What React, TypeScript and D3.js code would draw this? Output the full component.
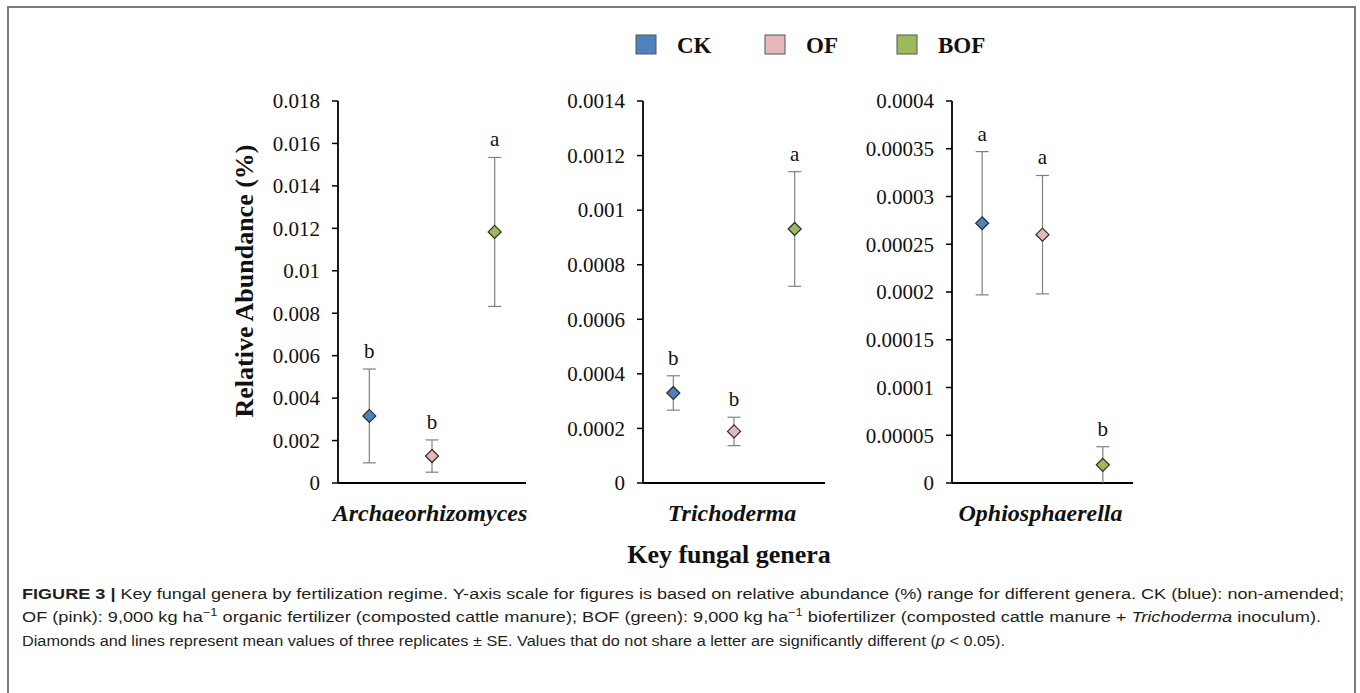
import React from 'react';
import { scaleBand, scaleLinear } from 'd3';

// treatments and genera
const treatments = ['CK', 'OF', 'BOF'];
const colors = ['#4f81bd', '#e6b9b8', '#9bbb59'];
const genera = ['Archaeorhizomyces', 'Trichoderma', 'Ophiosphaerella'];

// mean relative abundance (%) and SE
const archaeoMean = [0.00316, 0.00127, 0.01183];
const archaeoSE = [0.00221, 0.00076, 0.00351];
const trichoMean = [0.00033, 0.000189, 0.000931];
const trichoSE = [0.000063, 0.000052, 0.00021];
const ophioMean = [0.000272, 0.00026, 0.000019];
const ophioSE = [0.000075, 0.000062, 0.000019];

// significance letters
const archaeoLetters = ['b', 'b', 'a'];
const trichoLetters = ['b', 'b', 'a'];
const ophioLetters = ['a', 'a', 'b'];

// y tick values and labels
const archaeoTicks = [0, 0.002, 0.004, 0.006, 0.008, 0.01, 0.012, 0.014, 0.016, 0.018];
const archaeoTickLabels = ['0', '0.002', '0.004', '0.006', '0.008', '0.01', '0.012', '0.014', '0.016', '0.018'];
const trichoTicks = [0, 0.0002, 0.0004, 0.0006, 0.0008, 0.001, 0.0012, 0.0014];
const trichoTickLabels = ['0', '0.0002', '0.0004', '0.0006', '0.0008', '0.001', '0.0012', '0.0014'];
const ophioTicks = [0, 0.00005, 0.0001, 0.00015, 0.0002, 0.00025, 0.0003, 0.00035, 0.0004];
const ophioTickLabels = ['0', '0.00005', '0.0001', '0.00015', '0.0002', '0.00025', '0.0003', '0.00035', '0.0004'];

const serif = '"Liberation Serif", "Times New Roman", serif';
const sans = '"Liberation Sans", Arial, sans-serif';

const panels = [
  { name: genera[0], mean: archaeoMean, se: archaeoSE, letters: archaeoLetters, ticks: archaeoTicks, labels: archaeoTickLabels, x0: 338, x1: 526 },
  { name: genera[1], mean: trichoMean, se: trichoSE, letters: trichoLetters, ticks: trichoTicks, labels: trichoTickLabels, x0: 643, x1: 825 },
  { name: genera[2], mean: ophioMean, se: ophioSE, letters: ophioLetters, ticks: ophioTicks, labels: ophioTickLabels, x0: 952, x1: 1133 },
];

const yTop = 101;
const yBottom = 483;

function Panel({ p }) {
  const yMax = p.ticks[p.ticks.length - 1];
  const y = scaleLinear().domain([0, yMax]).range([yBottom, yTop]);
  const x = scaleBand().domain(treatments).range([p.x0, p.x1]);
  const half = x.bandwidth() / 2;
  const d = 6.5; // diamond half-diagonal
  const cap = 6.5;

  return (
    <g>
      {/* y ticks */}
      {p.ticks.map((t, i) => (
        <g key={i}>
          <line x1={p.x0 - 6} x2={p.x0} y1={y(t)} y2={y(t)} stroke="#000" strokeWidth={1.5} />
          <text x={p.x0 - 18} y={y(t)} dy="0.35em" textAnchor="end" fontFamily={serif} fontSize={21} fill="#111">
            {p.labels[i]}
          </text>
        </g>
      ))}
      <line x1={p.x0} x2={p.x0} y1={yTop} y2={yBottom} stroke="#000" strokeWidth={1.8} />
      <line x1={p.x0} x2={p.x1} y1={yBottom} y2={yBottom} stroke="#000" strokeWidth={1.8} />

      {treatments.map((tr, i) => {
        const cx = x(tr) + half;
        const lo = Math.max(0, p.mean[i] - p.se[i]);
        const hi = p.mean[i] + p.se[i];
        const cy = y(p.mean[i]);
        return (
          <g key={tr}>
            <line x1={cx} x2={cx} y1={y(lo)} y2={y(hi)} stroke="#808080" strokeWidth={1.2} />
            <line x1={cx - cap} x2={cx + cap} y1={y(hi)} y2={y(hi)} stroke="#808080" strokeWidth={1.2} />
            {lo > 0 && <line x1={cx - cap} x2={cx + cap} y1={y(lo)} y2={y(lo)} stroke="#808080" strokeWidth={1.2} />}
            <path
              d={`M${cx},${cy - d}L${cx + d},${cy}L${cx},${cy + d}L${cx - d},${cy}Z`}
              fill={colors[i]}
              stroke="#2b2b2b"
              strokeWidth={1.2}
            />
            <text x={cx} y={y(hi) - 11} textAnchor="middle" fontFamily={serif} fontSize={21} fill="#111">
              {p.letters[i]}
            </text>
          </g>
        );
      })}

      <text
        x={(p.x0 + p.x1) / 2 - 2}
        y={521}
        textAnchor="middle"
        fontFamily={serif}
        fontSize={24}
        fontWeight="bold"
        fontStyle="italic"
        fill="#111"
      >
        {p.name}
      </text>
    </g>
  );
}

export default function App() {
  const legendX = [636, 765, 897];
  return (
    <svg width={1360} height={693} style={{ position: 'absolute', left: 0, top: 0, background: '#fff' }}>
      <rect x={8} y={7} width={1347} height={720} fill="#fff" stroke="#7a7a7a" strokeWidth={2} />

      {/* legend */}
      {treatments.map((tr, i) => (
        <g key={tr}>
          <rect x={legendX[i]} y={35} width={20} height={19} fill={colors[i]} stroke="#555" strokeWidth={1} />
          <text x={legendX[i] + 41} y={53} fontFamily={serif} fontSize={23} fontWeight="bold" fill="#111">
            {tr}
          </text>
        </g>
      ))}

      <text
        transform="translate(253,281) rotate(-90)"
        textAnchor="middle"
        fontFamily={serif}
        fontSize={26}
        fontWeight="bold"
        fill="#111"
      >
        Relative Abundance (%)
      </text>

      {panels.map((p) => (
        <Panel key={p.name} p={p} />
      ))}

      <text x={729} y={563} textAnchor="middle" fontFamily={serif} fontSize={26} fontWeight="bold" fill="#111">
        Key fungal genera
      </text>

      {/* caption */}
      <g fontFamily={sans} fontSize={15.5} fill="#231f20">
        <text x={22} y={599} textLength={1322} lengthAdjust="spacingAndGlyphs">
          <tspan fontWeight="bold">FIGURE 3 |</tspan> Key fungal genera by fertilization regime. Y-axis scale for figures is based on relative abundance (%) range for different genera. CK (blue): non-amended;
        </text>
        <text x={22} y={622} textLength={1299} lengthAdjust="spacingAndGlyphs">
          OF (pink): 9,000 kg ha<tspan dy={-6} fontSize={11}>−1</tspan>
          <tspan dy={6}> organic fertilizer (composted cattle manure); BOF (green): 9,000 kg ha</tspan>
          <tspan dy={-6} fontSize={11}>−1</tspan>
          <tspan dy={6}> biofertilizer (composted cattle manure + </tspan>
          <tspan fontStyle="italic">Trichoderma</tspan> inoculum).
        </text>
        <text x={22} y={646} textLength={983} lengthAdjust="spacingAndGlyphs">
          Diamonds and lines represent mean values of three replicates ± SE. Values that do not share a letter are significantly different (<tspan fontStyle="italic">p</tspan> &lt; 0.05).
        </text>
      </g>
    </svg>
  );
}
